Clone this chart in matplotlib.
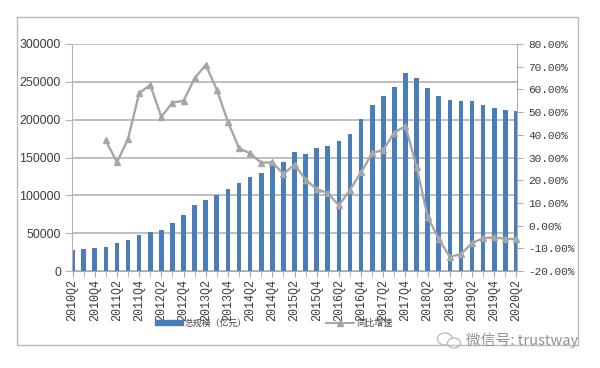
import matplotlib
matplotlib.use("Agg")
import matplotlib.pyplot as plt
from matplotlib.patches import Ellipse
from matplotlib.lines import Line2D

years = [2010 + (i + 1) // 4 for i in range(41)]
quarters = [(i + 1) % 4 + 1 for i in range(41)]
categories = [f"{y}Q{q}" for y, q in zip(years, quarters)]
scale_values = [28000, 29000, 30000, 32000, 36500, 40500, 47000, 52000, 54500, 63000,
                74300, 86700, 94000, 100700, 108000, 116500, 124000, 129000, 142500, 143400,
                157500, 155000, 162700, 165000, 172400, 180800, 201500, 219500, 231400, 243700,
                261300, 255600, 241500, 231400, 226100, 224300, 224300, 219500, 215000, 213000, 212000]
growth_values = [None, None, None, 37.5, 27.9, 38.2, 58.3, 62.0, 47.9, 54.2, 55.0, 64.9, 70.8, 59.9,
                 45.7, 34.1, 31.8, 27.7, 27.9, 22.7, 26.9, 20.2, 16.1, 14.3, 8.9, 15.8, 23.4, 31.9,
                 33.4, 41.0, 43.9, 25.9, 3.9, -5.9, -13.8, -12.5, -7.7, -5.5, -5.2, -5.8, -5.9]
left_ticks = [0, 50000, 100000, 150000, 200000, 250000, 300000]
right_ticks = [-20, -10, 0, 10, 20, 30, 40, 50, 60, 70, 80]
series_names = ["总规模（亿元）", "同比增速"]
watermark = "微信号: trustway"

BLUE = "#4a7ebb"
GREY = "#a6a6a6"
W, H = 600, 368
fig = plt.figure(figsize=(W / 100, H / 100), dpi=100)
ax = fig.add_axes([72 / W, 1 - 271 / H, 445 / W, 227 / H])
xs = list(range(len(categories)))
ax.bar(xs, scale_values, width=0.42, color=BLUE, zorder=2)
ax.set_xlim(-0.05, 40.05)
ax.set_ylim(0, 300000)
ax.set_yticks(left_ticks)
ax.set_xticks(xs[::2])
ax.set_xticks(xs, minor=True)
ax.set_xticklabels(categories[::2], rotation=90, family="Liberation Mono", fontsize=8.4, color="#3c3c3c")
ax.tick_params(axis="x", which="both", length=4, color="#aaaaaa", pad=2)
ax.tick_params(axis="y", labelsize=8.9, length=5, color="#b4b4b4", pad=3, labelcolor="#3c3c3c")
for l in ax.get_yticklabels():
    l.set_family("Liberation Sans")
ax.grid(axis="y", color="#b4b4b4", lw=1.2, zorder=1)
ax.set_axisbelow(True)
for s in ["top", "right"]:
    ax.spines[s].set_visible(False)
ax.spines["left"].set_color("#b4b4b4")
ax.spines["bottom"].set_color("#aaaaaa")

ax2 = ax.twinx()
ax2.plot(xs, [float("nan") if v is None else v for v in growth_values], color=GREY, lw=1.7,
         marker="^", ms=5, mfc=GREY, mec=GREY, zorder=5, clip_on=False)
ax2.set_ylim(-20, 80)
ax2.set_yticks(right_ticks)
ax2.set_yticklabels([f"{v:.2f}%" for v in right_ticks], family="Liberation Mono", fontsize=8.0, color="#3c3c3c")
ax2.tick_params(axis="y", length=4, color="#aaaaaa", pad=4)
for s in ["top", "left", "bottom"]:
    ax2.spines[s].set_visible(False)
ax2.spines["right"].set_color("#aaaaaa")

cjk = ["Noto Sans CJK SC", "DejaVu Sans"]
fig.patches.append(plt.Rectangle((155 / W, 1 - 325 / H), 28 / W, 5 / H, transform=fig.transFigure, color=BLUE))
fig.text(185 / W, 1 - 323 / H, series_names[0], family=cjk, fontsize=6.4, color="#444444", va="center", zorder=6)
fig.add_artist(Line2D([326 / W, 340 / W, 354 / W], [1 - 323 / H] * 3, color=GREY, lw=1.4, marker="^", ms=4,
                      markevery=[1], markerfacecolor=GREY, markeredgecolor=GREY))
fig.text(356 / W, 1 - 323 / H, series_names[1], family=cjk, fontsize=6.6, color="#444444", va="center", zorder=6)

FRAME = "#bcbcc6"
fig.add_artist(Line2D([17 / W, 578 / W, 578 / W, 17 / W, 17 / W],
                      [1 - 17 / H, 1 - 17 / H, 1 - 345 / H, 1 - 345 / H, 1 - 17 / H], color=FRAME, lw=1.0))
fig.text(466 / W, 1 - 340 / H, watermark, family=cjk, fontsize=10.6, color="#929292", va="center", zorder=6)
for (cx, cy, ew, eh) in [(445, 339, 15, 12), (454, 343, 13, 10)]:
    fig.patches.append(Ellipse((cx / W, 1 - cy / H), ew / W, eh / H, transform=fig.transFigure,
                               fc="white", ec="#b0b0b0", lw=0.8))
fig.savefig("out.png", dpi=100)
